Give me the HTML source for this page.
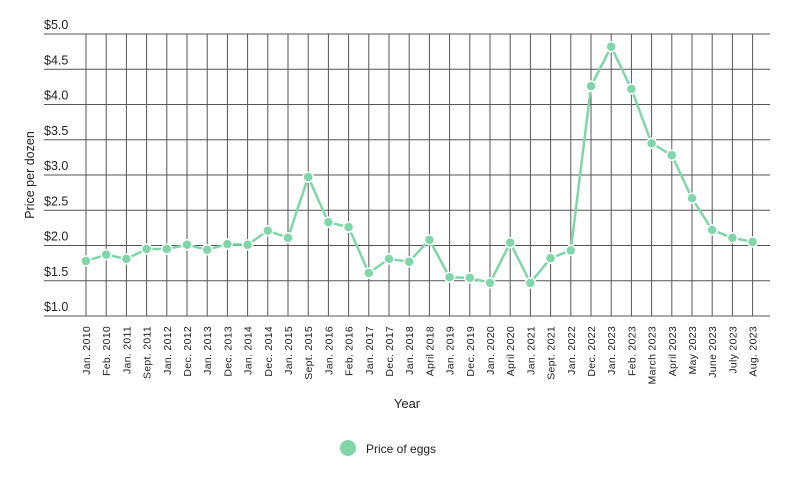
<!DOCTYPE html>
<html><head><meta charset="utf-8"><style>
html,body{margin:0;padding:0;background:#fff;}
svg text{font-family:"Liberation Sans",sans-serif;fill:#222;}
</style></head><body>
<svg width="800" height="474" viewBox="0 0 800 474" xmlns="http://www.w3.org/2000/svg">
<g id="grid" stroke="#555" stroke-width="1"></g>
<g id="ylab" font-size="12.5"></g>
<g id="xlab" font-size="10.5" letter-spacing="0.3"></g>
<polyline id="line" fill="none" stroke="#7fd6a8" stroke-width="2.5"/>
<g id="dots"></g>
<text x="20" y="175" font-size="12.5" transform="rotate(-90 20 175)" text-anchor="middle" dy="14">Price per dozen</text>
<text x="407" y="408" font-size="13" text-anchor="middle">Year</text>
<circle cx="348" cy="448" r="8" fill="#7fd6a8"/>
<text x="366" y="453" font-size="12">Price of eggs</text>
</svg>
<script>
const labels=["Jan. 2010","Feb. 2010","Jan. 2011","Sept. 2011","Jan. 2012","Dec. 2012","Jan. 2013","Dec. 2013","Jan. 2014","Dec. 2014","Jan. 2015","Sept. 2015","Jan. 2016","Feb. 2016","Jan. 2017","Dec. 2017","Jan. 2018","April 2018","Jan. 2019","Dec. 2019","Jan. 2020","April 2020","Jan. 2021","Sept. 2021","Jan. 2022","Dec. 2022","Jan. 2023","Feb. 2023","March 2023","April 2023","May 2023","June 2023","July 2023","Aug. 2023"];
const vals=[1.78,1.87,1.81,1.95,1.95,2.01,1.94,2.02,2.01,2.21,2.11,2.97,2.33,2.26,1.61,1.81,1.77,2.08,1.55,1.54,1.47,2.04,1.47,1.82,1.93,4.26,4.82,4.22,3.45,3.28,2.67,2.22,2.11,2.05];
const NS="http://www.w3.org/2000/svg";
const X=i=>86+i*20.2, Y=v=>34+(5-v)*70.5;
function el(t,a,p,txt){const e=document.createElementNS(NS,t);for(const k in a)e.setAttribute(k,a[k]);if(txt)e.textContent=txt;document.getElementById(p).appendChild(e);return e;}
for(let k=0;k<=8;k++){const v=5-k*0.5,y=Y(v);el('line',{x1:44,x2:770,y1:y,y2:y},'grid');
el('text',{x:44,y:y-5},'ylab','$'+v.toFixed(1));}
labels.forEach((l,i)=>{const x=X(i);el('line',{x1:x,x2:x,y1:34,y2:316},'grid');
el('text',{x:x+4,y:326,transform:`rotate(-90 ${x+4} 326)`,'text-anchor':'end'},'xlab',l);});
document.getElementById('line').setAttribute('points',vals.map((v,i)=>X(i)+','+Y(v)).join(' '));
vals.forEach((v,i)=>el('circle',{cx:X(i),cy:Y(v),r:5,fill:'#7fd6a8',stroke:'#fff','stroke-width':1.5},'dots'));
</script>
</body></html>
